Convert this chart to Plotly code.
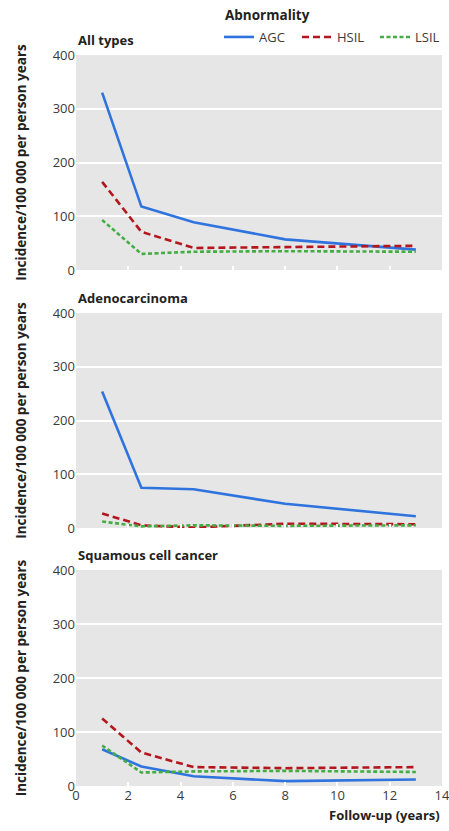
import plotly.graph_objects as go

# Follow-up time points (years) and incidence per 100 000 person years
followup = [1, 2.5, 4.5, 8, 13]

all_agc = [330, 118, 89, 57, 38]
all_hsil = [164, 71, 41, 43, 45]
all_lsil = [93, 30, 34, 35, 34]

adeno_agc = [254, 75, 72, 45, 22]
adeno_hsil = [27, 5, 1, 8, 7]
adeno_lsil = [12, 3, 5, 4, 5]

squam_agc = [68, 36, 18, 9, 12]
squam_hsil = [125, 62, 35, 33, 35]
squam_lsil = [75, 25, 27, 28, 26]

panel_titles = ["All types", "Adenocarcinoma", "Squamous cell cancer"]
y_ticks = [0, 100, 200, 300, 400]
x_ticks = [0, 2, 4, 6, 8, 10, 12, 14]

series_style = {
    "AGC": dict(color="#2f74de", dash="solid"),
    "HSIL": dict(color="#b3171d", dash="7px,4px"),
    "LSIL": dict(color="#43ad43", dash="4px,2.5px"),
}

panels = [
    {"AGC": all_agc, "HSIL": all_hsil, "LSIL": all_lsil},
    {"AGC": adeno_agc, "HSIL": adeno_hsil, "LSIL": adeno_lsil},
    {"AGC": squam_agc, "HSIL": squam_hsil, "LSIL": squam_lsil},
]

W, H = 449, 831
M_L, M_R, M_T, M_B = 76, 7, 55, 45
plot_w = W - M_L - M_R
plot_h = H - M_T - M_B

def py(px):
    # pixel row -> paper y
    return (H - M_B - px) / plot_h

def px_(x):
    # pixel column -> paper x
    return (x - M_L) / plot_w

domains = [
    [py(270), py(55)],
    [py(528), py(313)],
    [py(786), py(570)],
]

font_family = "Open Sans, Lato, sans-serif"
text_col = "#3a3a3a"

fig = go.Figure()
for i, data in enumerate(panels):
    ax = "" if i == 0 else str(i + 1)
    for name, vals in data.items():
        st = series_style[name]
        fig.add_trace(go.Scatter(
            x=followup, y=vals, mode="lines", name=name,
            line=dict(color=st["color"], dash=st["dash"], width=2.6),
            xaxis="x" + ax, yaxis="y" + ax,
            showlegend=(i == 0),
        ))

layout = dict(
    width=W, height=H,
    margin=dict(l=M_L, r=M_R, t=M_T, b=M_B, autoexpand=False),
    paper_bgcolor="white",
    plot_bgcolor="#e6e6e6",
    font=dict(family=font_family, size=13, color=text_col),
    showlegend=True,
    legend=dict(
        orientation="h",
        x=px_(453), xanchor="right",
        y=py(22), yanchor="top",
        font=dict(size=13, color=text_col),
        bgcolor="rgba(0,0,0,0)",
        itemwidth=30,
        entrywidth=33, entrywidthmode="pixels",
        tracegroupgap=0,
    ),
)

for i in range(3):
    sfx = "" if i == 0 else str(i + 1)
    layout["xaxis" + sfx] = dict(
        domain=[0, 1], range=[0, 14], anchor="y" + sfx,
        tickvals=x_ticks, ticks="inside", ticklen=4, tickwidth=1.5,
        tickcolor="white", showgrid=False, zeroline=False,
        showticklabels=(i == 2), tickfont=dict(size=13, color=text_col),
        ticklabeloverflow="allow",
        showline=False, automargin=False,
    )
    layout["yaxis" + sfx] = dict(
        domain=domains[i], range=[0, 400], anchor="x" + sfx,
        tickvals=y_ticks, ticks="", showgrid=True, gridcolor="white",
        gridwidth=2, zeroline=False, tickfont=dict(size=13, color=text_col),
        automargin=False,
        title=dict(text="<b>Incidence/100 000 per person years</b>",
                   font=dict(size=13.5, color="#222"), standoff=22),
    )

fig.update_layout(**layout)

annotations = []
for i, t in enumerate(panel_titles):
    annotations.append(dict(
        text="<b>" + t + "</b>", xref="paper", yref="paper",
        x=0, y=domains[i][1], xanchor="left", yanchor="bottom", yshift=4,
        showarrow=False, font=dict(size=13, color="#222"),
    ))
# legend heading
annotations.append(dict(
    text="<b>Abnormality</b>", xref="paper", yref="paper",
    x=px_(223), y=py(15), xanchor="left", yanchor="middle",
    showarrow=False, font=dict(size=13.5, color="#222"),
))
annotations.append(dict(
    text="<b>Follow-up (years)</b>", xref="paper", yref="paper",
    x=1, y=py(815), xanchor="right", yanchor="middle",
    showarrow=False, font=dict(size=13, color="#222"),
))
fig.update_layout(annotations=annotations)

fig.write_html("out.html")
